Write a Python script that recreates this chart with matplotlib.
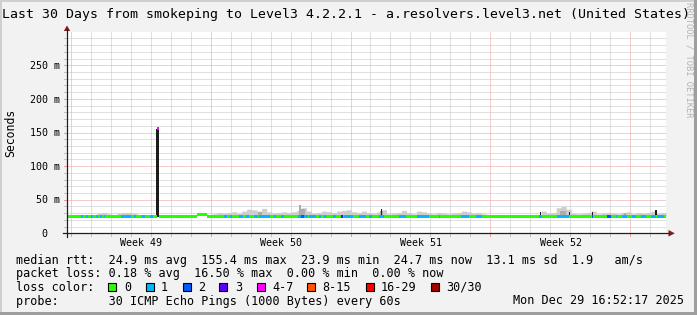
import numpy as np
import matplotlib
matplotlib.use("Agg")
import matplotlib.pyplot as plt
from matplotlib.patches import Rectangle, Polygon
from matplotlib.lines import Line2D

# ---------------- data ----------------
title = "Last 30 Days from smokeping to Level3 4.2.2.1 - a.resolvers.level3.net (United States)"
y_label = "Seconds"
y_ticks_ms = [0, 50, 100, 150, 200, 250]
y_tick_labels = ["0", "50 m", "100 m", "150 m", "200 m", "250 m"]
week_labels = ["Week 49", "Week 50", "Week 51", "Week 52"]
week_label_days = [3.72, 10.72, 17.72, 24.72]
week_start_days = [0.2, 7.2, 14.2, 21.2, 28.2]
n_days = 30

# median rtt (ms), one value per half day
median_halfday_ms = [
    24.6, 24.4, 24.5, 24.7, 24.5, 24.4, 24.6, 24.5, 24.3, 24.5,
    24.6, 24.4, 24.5, 27.5, 24.6, 24.4, 24.5, 24.7, 24.5, 24.6,
    24.4, 24.5, 24.6, 24.8, 24.5, 24.3, 24.6, 24.5, 24.4, 24.7,
    24.5, 24.6, 24.4, 24.5, 24.7, 24.5, 24.4, 24.6, 24.5, 24.4,
    24.5, 24.6, 24.4, 24.5, 24.3, 24.5, 24.6, 24.5, 24.7, 24.6,
    24.4, 24.5, 24.6, 24.5, 24.4, 24.6, 24.5, 24.7, 24.5, 24.7,
]
# short median excursions: (start day, end day, ms)
median_events = [(4.50, 4.60, 155.4)]

# upper edge of the smoke (ms), one value per quarter day
smoke_top_ms = [
    26, 26, 27, 26, 27, 28, 30, 31, 29, 28, 30, 31, 31, 30, 27, 26,
    26, 26, 27, 26, 26, 27, 26, 26, 27, 27, 29, 30, 28, 29, 31, 30,
    31, 32, 30, 33, 36, 35, 33, 37, 32, 30, 31, 32, 31, 32, 34, 38,
    33, 30, 31, 33, 32, 31, 33, 34, 35, 32, 31, 33, 31, 30, 32, 35,
    29, 30, 31, 34, 31, 29, 33, 32, 30, 29, 31, 30, 29, 30, 31, 33,
    32, 30, 31, 29, 27, 26, 27, 26, 26, 26, 26, 27, 26, 27, 28, 33,
    30, 31, 38, 40, 36, 30, 29, 30, 31, 33, 29, 30, 31, 30, 29, 31,
    32, 29, 31, 30, 31, 33, 30, 31,
]
smoke_base_ms = 24.5
# denser smoke patches: (start day, end day, top ms)
dark_smoke = [(9.55, 9.75, 31), (11.60, 11.70, 42), (11.70, 11.90, 36),
              (15.70, 15.85, 33), (24.70, 25.00, 33), (27.90, 28.00, 30)]
# very dense smoke (black): (start day, end day, top ms)
black_smoke = [(4.48, 4.61, 155.4), (15.72, 15.77, 36), (23.70, 23.76, 31),
               (25.12, 25.20, 32), (26.30, 26.36, 32), (29.47, 29.53, 35)]

loss_labels = ["0", "1", "2", "3", "4-7", "8-15", "16-29", "30/30"]
loss_colors = ["#26ff00", "#00b8ff", "#0059ff", "#5e00ff", "#ff00ff",
               "#ff5500", "#ff0000", "#a10000"]
# periods with packet loss: (start day, end day, loss class index)
loss_segments = [
    (0.70, 0.80, 1), (0.95, 1.05, 1), (1.20, 1.30, 1), (1.45, 1.55, 1),
    (1.65, 1.75, 1), (1.85, 1.90, 1), (2.70, 3.20, 1), (3.35, 3.45, 1),
    (3.75, 3.90, 1), (4.15, 4.30, 1), (4.50, 4.60, 4),
    (7.85, 8.00, 1), (8.15, 8.25, 1), (8.60, 8.80, 1), (8.95, 9.10, 1),
    (9.35, 9.55, 1), (9.60, 10.15, 1), (10.35, 10.45, 1), (10.70, 10.85, 1),
    (11.55, 11.70, 1), (11.70, 11.85, 2), (11.85, 12.05, 1), (12.10, 12.45, 1),
    (12.60, 12.70, 1), (12.85, 12.95, 1), (13.30, 13.45, 1), (13.70, 13.80, 3),
    (13.85, 14.30, 1), (14.60, 14.95, 1), (15.15, 15.30, 1), (15.65, 15.90, 1),
    (16.65, 17.00, 1), (17.55, 18.15, 1), (18.65, 18.70, 1), (19.75, 20.15, 1),
    (20.50, 20.80, 1), (23.65, 23.80, 1), (24.55, 25.15, 1), (26.30, 26.35, 2),
    (27.05, 27.25, 2), (27.50, 27.55, 1), (27.80, 28.05, 1), (28.30, 28.50, 1),
    (28.75, 29.00, 1), (29.25, 29.50, 1), (29.55, 29.90, 1),
]

legend_row1 = "median rtt:  24.9 ms avg  155.4 ms max  23.9 ms min  24.7 ms now  13.1 ms sd  1.9   am/s"
legend_row2 = "packet loss: 0.18 % avg  16.50 % max  0.00 % min  0.00 % now"
legend_row3 = "loss color:"
legend_row4 = "probe:       30 ICMP Echo Pings (1000 Bytes) every 60s"
timestamp = "Mon Dec 29 16:52:17 2025"
watermark = "RRDTOOL / TOBI OETIKER"

# ---------------- layout ----------------
plt.rcParams["font.family"] = ["DejaVu Sans Mono"]
W, H = 697, 315
fig = plt.figure(figsize=(W / 100, H / 100), dpi=100, facecolor="#F2F2F2")


def fx(px):
    return px / W


def fy(py):
    return 1 - py / H


X0, X1 = 67, 666
Y0 = 233.3
PX_PER_MS = 0.672
YMAX = 300
ytop = Y0 - YMAX * PX_PER_MS
ax = fig.add_axes([fx(X0), fy(Y0), (X1 - X0) / W, (Y0 - ytop) / H])
ax.set_xlim(0, n_days)
ax.set_ylim(0, YMAX)
ax.set_facecolor("white")
for s in ax.spines.values():
    s.set_visible(False)
ax.set_xticks([])
ax.set_yticks([])

GRID = "#c2c2c2"
MGRID = "#e89c9c"
dot = (0, (1, 1))
# vertical grid
for k in range(n_days):
    d = week_start_days[0] + k
    major = any(abs(d - w) < 1e-6 for w in week_start_days)
    ax.axvline(d, color=MGRID if major else GRID, lw=0.72, ls=dot, zorder=0.5)
    xp = X0 + d * (X1 - X0) / n_days
    fig.add_artist(Line2D([fx(xp), fx(xp)], [fy(Y0), fy(Y0 + 2.5)],
                          color=MGRID if major else GRID, lw=0.72))
# horizontal grid
for v in range(10, 300, 10):
    major = v % 50 == 0
    ax.axhline(v, color=MGRID if major else GRID, lw=0.72, ls=dot, zorder=0.5)
    yp = Y0 - v * PX_PER_MS
    fig.add_artist(Line2D([fx(X0 - 3), fx(X0)], [fy(yp), fy(yp)],
                          color=MGRID if major else GRID, lw=0.72))

# ---------------- data drawing ----------------
step = 0.05
n = int(round(n_days / step))
idx = np.arange(n)
t0 = idx * step
med = np.array(median_halfday_ms, dtype=float)[idx // 10]
for s, e, v in median_events:
    med[(t0 >= s - 1e-9) & (t0 < e - 1e-9)] = v
lvl = np.zeros(n, dtype=int)
for s, e, l in loss_segments:
    lvl[(t0 >= s - 1e-9) & (t0 < e - 1e-9)] = l
smoke = np.array(smoke_top_ms, dtype=float)[idx // 5]

tt = np.append(t0, n_days)
lower = np.minimum(med, smoke)
ax.fill_between(tt, np.append(lower, lower[-1]), np.append(smoke, smoke[-1]),
                step="post", color="#cdcdcd", lw=0, zorder=1)
for s, e, top in dark_smoke:
    ax.bar(s, top - smoke_base_ms, bottom=smoke_base_ms, width=e - s, align="edge",
           color="#acacac", lw=0, zorder=1.2)
for s, e, top in black_smoke:
    ax.bar(s, top - smoke_base_ms, bottom=smoke_base_ms, width=e - s, align="edge",
           color="#1c1c1c", lw=0, zorder=1.4)

half = 1.5 / PX_PER_MS
i = 0
while i < n:
    j = i
    while j + 1 < n and lvl[j + 1] == lvl[i] and med[j + 1] == med[i]:
        j += 1
    ax.bar(t0[i], 2 * half, bottom=med[i] - half, width=(j - i + 1) * step,
           align="edge", color=loss_colors[lvl[i]], lw=0, antialiased=False, zorder=2)
    i = j + 1

# axes lines and arrows
AX = "#1f1f1f"
ARROW = "#801f1f"
fig.add_artist(Line2D([fx(X0), fx(X0)], [fy(236.5), fy(29)], color=AX, lw=0.9))
fig.add_artist(Line2D([fx(62.5), fx(669)], [fy(Y0), fy(Y0)], color=AX, lw=0.9))
fig.add_artist(Polygon([(fx(63.8), fy(31)), (fx(70.2), fy(31)), (fx(67), fy(25.5))],
                       closed=True, color=ARROW, lw=0))
fig.add_artist(Polygon([(fx(668.5), fy(230)), (fx(668.5), fy(236.6)), (fx(674.8), fy(Y0))],
                       closed=True, color=ARROW, lw=0))

# tick labels
for v, lab in zip(y_ticks_ms, y_tick_labels):
    yp = Y0 - v * PX_PER_MS
    xr = 60 if lab != "0" else 47
    fig.text(fx(xr), fy(yp + 3.7), lab, ha="right", va="baseline", fontsize=7.2)
for d, lab in zip(week_label_days, week_labels):
    xp = X0 + d * (X1 - X0) / n_days
    fig.text(fx(xp), fy(245.6), lab, ha="center", va="baseline", fontsize=7.2)
fig.text(fx(11), fy(132.5), y_label, rotation=90, ha="center", va="center", fontsize=8.3)

# watermark and title
fig.text(fx(688.5), fy(2.5), watermark, rotation=270, ha="center", va="top",
         fontsize=6.3, color="#b4b4b4")
fig.text(fx(346), fy(18), title, ha="center", va="baseline", fontsize=9.5)

# legend
LF = 8.47
fig.text(fx(16), fy(264), legend_row1, ha="left", va="baseline", fontsize=LF)
fig.text(fx(16), fy(277.5), legend_row2, ha="left", va="baseline", fontsize=LF)
fig.text(fx(16), fy(291), legend_row3, ha="left", va="baseline", fontsize=LF)
fig.text(fx(16), fy(304.5), legend_row4, ha="left", va="baseline", fontsize=LF)
fig.text(fx(513), fy(304.5), timestamp, ha="left", va="baseline", fontsize=LF)
sq_x = [108, 146, 183, 219, 257, 307, 366, 431]
lab_x = [124, 161, 198, 235, 272, 322, 381, 446]
for sx, lx, lab, col in zip(sq_x, lab_x, loss_labels, loss_colors):
    fig.add_artist(Rectangle((fx(sx), fy(291)), 8 / W, 8 / H, facecolor=col,
                             edgecolor="black", lw=0.8))
    fig.text(fx(lx), fy(291), lab, ha="left", va="baseline", fontsize=LF)

# frame shading
fig.add_artist(Rectangle((0, fy(2)), 1, 2 / H, color="#cfcfcf", lw=0))
fig.add_artist(Rectangle((0, 0), 2 / W, 1, color="#cfcfcf", lw=0))
fig.add_artist(Rectangle((0, 0), 1, 3 / H, color="#9e9e9e", lw=0))
fig.add_artist(Rectangle((fx(694), 0), 3 / W, 1, color="#9e9e9e", lw=0))

fig.savefig("out.png", dpi=100, facecolor=fig.get_facecolor())
